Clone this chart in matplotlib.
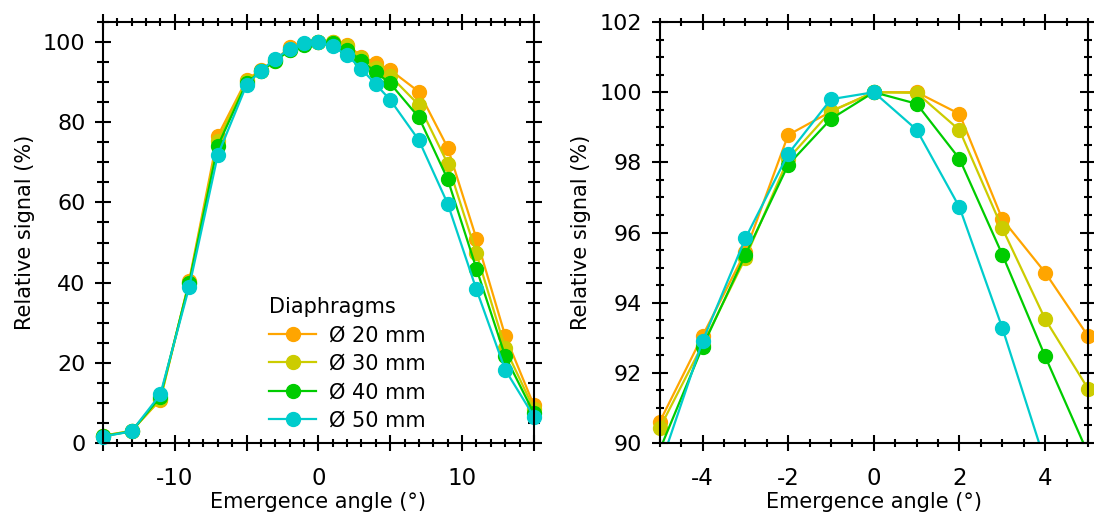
import numpy as np
import matplotlib
matplotlib.use('Agg')
import matplotlib.pyplot as plt
from matplotlib.ticker import MultipleLocator, FuncFormatter

# emergence angles (deg)
angle = [-15, -13, -11, -9, -7, -5, -4, -3, -2, -1, 0, 1, 2, 3, 4, 5, 7, 9, 11, 13, 15]

# relative signal (%) per diaphragm diameter
d20 = [1.8, 3.0, 10.8, 40.3, 76.6, 90.6, 93.05, 95.45, 98.78, 99.45, 100.0, 100.0, 99.38, 96.38, 94.86, 93.05, 87.6, 73.7, 51.0, 26.8, 9.4]
d30 = [1.8, 3.0, 10.9, 40.0, 75.3, 90.42, 92.8, 95.27, 98.1, 99.46, 100.0, 99.98, 98.92, 96.12, 93.53, 91.55, 84.3, 69.7, 47.3, 23.7, 8.5]
d40 = [1.7, 2.9, 11.5, 39.8, 74.1, 89.8, 92.74, 95.36, 97.93, 99.24, 100.0, 99.67, 98.1, 95.37, 92.47, 89.7, 81.2, 65.8, 43.5, 21.7, 7.4]
d50 = [1.6, 2.9, 12.1, 38.8, 71.8, 89.3, 92.9, 95.83, 98.24, 99.8, 100.0, 98.93, 96.72, 93.28, 89.46, 85.6, 75.5, 59.7, 38.3, 18.3, 6.6]

labels = ['Ø 20 mm', 'Ø 30 mm', 'Ø 40 mm', 'Ø 50 mm']
colors = ['#FFA500', '#CCCC00', '#00CC00', '#00CCCC']
series = [d20, d30, d40, d50]

plt.rcParams['font.family'] = ['DejaVu Sans']

fig = plt.figure(figsize=(10.94, 5.13), dpi=100)
ax1 = fig.add_axes([0.094, 0.1365, 0.394, 0.8205])
ax2 = fig.add_axes([0.603, 0.1365, 0.3915, 0.8205])

x = np.array(angle)
for s, c, lab in zip(series, colors, labels):
    ax1.plot(x, s, '-o', color=c, lw=1.6, ms=10, label=lab, clip_on=False)

for s, c in zip(series, colors):
    y = np.array(s)
    ax2.plot(x, y, '-', color=c, lw=1.6)
    ym = np.where((y >= 90) & (y <= 102) & (np.abs(x) <= 5), y, np.nan)
    ax2.plot(x, ym, 'o', color=c, ms=10, clip_on=False)

ax1.set_xlim(-15, 15)
ax1.set_ylim(0, 105)
ax1.xaxis.set_major_locator(MultipleLocator(5))
ax1.xaxis.set_minor_locator(MultipleLocator(1))
ax1.xaxis.set_major_formatter(FuncFormatter(lambda v, p: f'{int(round(v))}' if round(v) % 10 == 0 else ''))
ax1.yaxis.set_major_locator(MultipleLocator(20))
ax1.yaxis.set_minor_locator(MultipleLocator(5))

ax2.set_xlim(-5, 5)
ax2.set_ylim(90, 102)
ax2.xaxis.set_major_locator(MultipleLocator(2))
ax2.xaxis.set_minor_locator(MultipleLocator(0.5))
ax2.xaxis.set_major_formatter(FuncFormatter(lambda v, p: f'{int(round(v))}'))
ax2.yaxis.set_major_locator(MultipleLocator(2))
ax2.yaxis.set_minor_locator(MultipleLocator(0.5))
ax2.yaxis.set_major_formatter(FuncFormatter(lambda v, p: f'{int(round(v))}'))

for ax in (ax1, ax2):
    for sp in ax.spines.values():
        sp.set_linewidth(1.5)
    ax.tick_params(which='both', direction='inout', top=True, right=True,
                   width=1.5, labelsize=16)
    ax.tick_params(which='major', length=11)
    ax.tick_params(axis='y', pad=7)
    ax.tick_params(axis='x', pad=12, labelsize=16.5)
    ax.tick_params(axis='x', which='minor', length=6)
    ax.set_xlabel('Emergence angle (°)', fontsize=15, labelpad=1)
    ax.set_ylabel('Relative signal (%)', fontsize=15, labelpad=6)

ax1.tick_params(axis='y', which='minor', length=9)
ax2.tick_params(axis='y', which='minor', length=6)

leg = ax1.legend(title='Diaphragms', loc='lower left', bbox_to_anchor=(0.37, 0.015),
                 frameon=False, fontsize=15, title_fontsize=15, alignment='left',
                 handlelength=2.3, handletextpad=0.6, labelspacing=0.4,
                 borderpad=0, borderaxespad=0.3)

fig.savefig('out.png', dpi=100)
